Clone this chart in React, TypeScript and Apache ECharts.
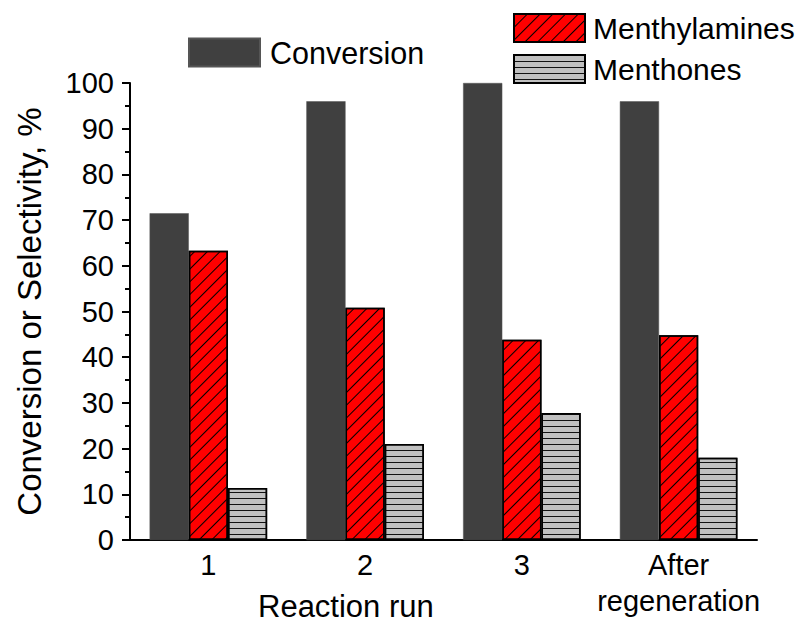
import React, { useEffect, useRef } from "react";
import * as echarts from "echarts";

const categories = ["1", "2", "3", "After\nregeneration"];
const conversion = [71.5, 96, 100, 96];
const menthylamines = [63.3, 50.8, 43.8, 44.8];
const menthones = [11.4, 21, 27.8, 18];
const yTicks = { min: 0, max: 100, interval: 10 };

const FONT = "'Liberation Sans', Arial, sans-serif";

export default function App() {
  const ref = useRef<HTMLDivElement>(null);
  useEffect(() => {
    document.body.style.margin = "0";
    if (!ref.current) return;
    const chart = echarts.init(ref.current, undefined, { renderer: "svg" });
    chart.setOption({
      animation: false,
      backgroundColor: "#fff",
      textStyle: { fontFamily: FONT, color: "#000" },
      grid: { left: 130, right: 44, top: 83, bottom: 82, containLabel: false },
      legend: [
        {
          data: ["Conversion"],
          left: 188,
          top: 37,
          padding: 0,
          itemWidth: 71,
          itemHeight: 28,
          itemGap: 10,
          icon: "rect",
          textStyle: { fontSize: 30.5, fontFamily: FONT, color: "#000", padding: [0, 0, 0, 5] },
          selectedMode: false,
        },
        {
          data: ["Menthylamines", "Menthones"],
          orient: "vertical",
          left: 513,
          top: 13,
          padding: 0,
          itemWidth: 71,
          itemHeight: 28,
          itemGap: 11,
          icon: "rect",
          textStyle: { fontSize: 30, fontFamily: FONT, color: "#000", padding: [0, 0, 0, 3] },
          selectedMode: false,
        },
      ],
      xAxis: {
        type: "category",
        data: categories,
        axisLine: { lineStyle: { color: "#000", width: 2 } },
        axisTick: { show: false },
        axisLabel: {
          interval: 0,
          fontSize: 29,
          fontFamily: FONT,
          color: "#000",
          margin: 7,
          lineHeight: 36,
        },
        splitLine: { show: false },
      },
      yAxis: {
        type: "value",
        min: yTicks.min,
        max: yTicks.max,
        interval: yTicks.interval,
        name: "Conversion or Selectivity, %",
        nameLocation: "middle",
        nameGap: 84,
        nameTextStyle: { fontSize: 33, fontFamily: FONT, color: "#000" },
        axisLine: { show: true, lineStyle: { color: "#000", width: 2 } },
        axisTick: { show: true, inside: false, length: 8, lineStyle: { color: "#000", width: 2 } },
        minorTick: { show: true, splitNumber: 2, length: 5, lineStyle: { color: "#000", width: 2 } },
        axisLabel: { fontSize: 29, fontFamily: FONT, color: "#000", margin: 16 },
        splitLine: { show: false },
      },
      graphic: [
        {
          type: "text",
          x: 258,
          y: 606,
          style: {
            text: "Reaction run",
            fontSize: 31,
            lineHeight: 30,
            fontFamily: FONT,
            fill: "#000",
            textVerticalAlign: "middle",
          },
        },
      ],
      series: [
        {
          name: "Conversion",
          type: "bar",
          data: conversion,
          barGap: "0%",
          barCategoryGap: "25%",
          itemStyle: { color: "#404040", borderColor: "#555", borderWidth: 0.5 },
        },
        {
          name: "Menthylamines",
          type: "bar",
          data: menthylamines,
          barGap: "0%",
          barCategoryGap: "25%",
          itemStyle: {
            color: "#ff0000",
            borderColor: "#000",
            borderWidth: 1.5,
            decal: {
              symbol: "rect",
              symbolSize: 1,
              color: "#000",
              dashArrayX: [1, 0],
              dashArrayY: [1, 8],
              rotation: -Math.PI / 4,
            },
          },
        },
        {
          name: "Menthones",
          type: "bar",
          data: menthones,
          barGap: "0%",
          barCategoryGap: "25%",
          itemStyle: {
            color: "#c0c0c0",
            borderColor: "#000",
            borderWidth: 1.5,
            decal: {
              symbol: "rect",
              symbolSize: 1,
              color: "#111",
              dashArrayX: [1, 0],
              dashArrayY: [1, 5],
              rotation: 0,
            },
          },
        },
      ],
    });
    return () => chart.dispose();
  }, []);
  return <div ref={ref} style={{ width: 801, height: 622 }} />;
}
